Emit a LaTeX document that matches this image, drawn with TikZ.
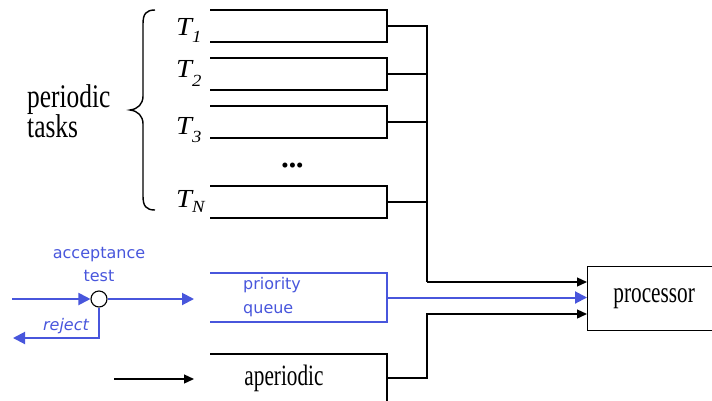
\documentclass[tikz,border=0pt]{standalone}
\usepackage{fontspec}
\setmainfont{Liberation Serif}
% condensed serif for the body labels, slightly wide serif for the task names
\newfontfamily\narrowserif[FakeStretch=0.72]{Liberation Serif}
\newfontfamily\groupserif[FakeStretch=0.77]{Liberation Serif}
\newfontfamily\wideserif[FakeStretch=1.1]{Liberation Serif}
\newfontfamily\handfont{DejaVu Sans}
\usetikzlibrary{arrows.meta}
\definecolor{qblue}{RGB}{72,86,220}

\tikzset{
  conn/.style={line width=1.3pt, black},
  karrow/.style={conn, -{Triangle[length=10pt,width=9pt]}},
  barrow/.style={qblue, line width=2pt, -{Triangle[length=12pt,width=12pt]}},
  bline/.style={qblue, line width=2pt},
  qbox/.style={minimum width=177pt, minimum height=32pt, inner sep=0pt, outer sep=0pt, anchor=north west},
  tlabel/.style={anchor=base west, inner sep=0pt, font=\wideserif\itshape\fontsize{26}{26}\selectfont},
  bigtext/.style={font=\groupserif\fontsize{33}{33}\selectfont, inner sep=0pt, anchor=base west},
  midtext/.style={font=\narrowserif\fontsize{29.5}{29.5}\selectfont, inner sep=0pt},
  handtext/.style={font=\handfont\fontsize{16}{16}\selectfont, text=qblue, inner sep=0pt, anchor=base},
}

\newcommand{\subfnt}{\wideserif\itshape\fontsize{17}{17}\selectfont}

\begin{document}
\begin{tikzpicture}[x=1pt,y=-1pt]
\useasboundingbox (0,0) rectangle (712,400);

% periodic task queues (open on the left)
\node[qbox] (t1) at (210,10) {};
\node[qbox] (t2) at (210,58) {};
\node[qbox] (t3) at (210,106) {};
\node[qbox] (tn) at (210,186) {};
\foreach \q in {t1,t2,t3,tn}
  \draw[conn] (\q.north west) -- (\q.north east) -- (\q.south east) -- (\q.south west);

% task names
\node[tlabel] (lt1) at (176,35) {T\raisebox{-7pt}{\subfnt 1}};
\node[tlabel] (lt2) at (176,77) {T\raisebox{-9pt}{\subfnt 2}};
\node[tlabel] (lt3) at (176,134) {T\raisebox{-8pt}{\subfnt 3}};
\node[tlabel] (ltn) at (176,207) {T\raisebox{-5pt}{\subfnt N}};
\node[inner sep=0pt, font=\fontsize{21}{21}\selectfont] (dots) at (292.5,168) {•••};

% brace and group label
\draw[line width=1.4pt] (155,10) .. controls (146,10) and (143,14) .. (143,24)
  -- (143,96) .. controls (143,104) and (138,109) .. (130,110)
  .. controls (138,111) and (143,116) .. (143,124)
  -- (143,196) .. controls (143,206) and (146,210) .. (155,210);
\node[bigtext] (per1) at (27,107) {periodic};
\node[bigtext] (per2) at (27,137) {tasks};

% priority queue and aperiodic queue
\node[qbox, minimum height=49pt] (pq) at (210,273) {};
\draw[bline] (pq.north west) -- (pq.north east) -- (pq.south east) -- (pq.south west);
\node[handtext, anchor=base west] (pq1) at (243,289) {priority};
\node[handtext, anchor=base west] (pq2) at (243,313) {queue};

\node[qbox, minimum height=48pt] (ap) at (210,354) {};
\draw[conn] (ap.north west) -- (ap.north east) -- (ap.south east);
\node[midtext, anchor=base] (apl) at (284,385) {aperiodic};

% processor (its right side runs past the edge)
\node[draw, line width=1.3pt, minimum width=133pt, minimum height=64pt, inner sep=0pt,
      anchor=north west, font=\narrowserif\fontsize{29.5}{29.5}\selectfont] (proc) at (587,266) {processor};

% collecting bus of the periodic queues
\coordinate (joinP) at (427,282);
\coordinate (joinA) at (427,314);
\draw[conn] (t1.east) -- (t1.east -| joinP) -- (joinP);
\foreach \q in {t2,t3,tn}
  \draw[conn] (\q.east) -- (\q.east -| joinP);
\draw[karrow] (joinP) -- (joinP -| proc.west);
\draw[barrow] (pq.east) -- (pq.east -| proc.west);
\draw[karrow] (ap.east) -| (joinA) -- (joinA -| proc.west);

% acceptance test
\coordinate (inL) at (12,299);
\coordinate (qin) at (194,299);
\coordinate (rejL) at (13,338);
\node[circle, draw, line width=1.1pt, fill=white, minimum size=16pt, inner sep=0pt] (acc) at (99,299) {};
\draw[barrow] (inL) -- (acc.west);
\draw[barrow] (acc.east) -- (qin);
\draw[barrow] (acc.south) |- (rejL);
\node[handtext] (acct1) at (99,258) {acceptance};
\node[handtext] (acct2) at (99,281) {test};
\node[handtext, font=\handfont\itshape\fontsize{16}{16}\selectfont] (rej) at (66,330) {reject};

% aperiodic arrivals
\coordinate (apin0) at (114,379);
\coordinate (apin1) at (194,379);
\draw[karrow] (apin0) -- (apin1);
\end{tikzpicture}
\end{document}
